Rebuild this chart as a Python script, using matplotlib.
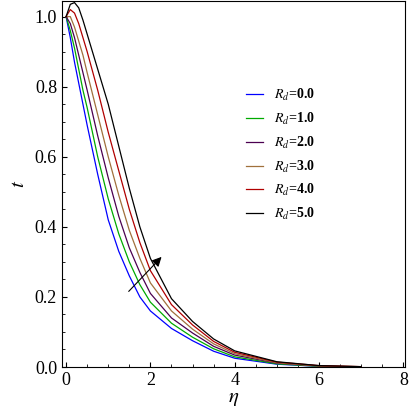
import matplotlib
matplotlib.use("Agg")
import matplotlib.pyplot as plt

plt.rcParams['font.family'] = ['Liberation Serif', 'DejaVu Serif']
plt.rcParams['mathtext.fontset'] = 'stix'

eta = [0, 0.1, 0.2, 0.3, 0.4, 0.5, 0.75, 1, 1.25, 1.5, 1.75, 2, 2.5, 3, 3.5, 4, 5, 6, 7]
rd0 = [1.0, 0.94, 0.87, 0.81, 0.75, 0.69, 0.55, 0.42, 0.33, 0.26, 0.20, 0.16, 0.11, 0.075, 0.045, 0.025, 0.008, 0.002, 0.0]
rd1 = [1.0, 0.96, 0.91, 0.85, 0.79, 0.74, 0.60, 0.48, 0.38, 0.30, 0.235, 0.185, 0.125, 0.085, 0.052, 0.029, 0.009, 0.002, 0.0]
rd2 = [1.0, 0.98, 0.94, 0.89, 0.84, 0.79, 0.66, 0.54, 0.43, 0.34, 0.27, 0.21, 0.14, 0.097, 0.059, 0.034, 0.011, 0.003, 0.0]
rd3 = [1.0, 1.0, 0.97, 0.93, 0.89, 0.84, 0.72, 0.60, 0.49, 0.39, 0.31, 0.24, 0.16, 0.108, 0.066, 0.038, 0.012, 0.003, 0.001]
rd4 = [1.0, 1.02, 1.01, 0.98, 0.94, 0.90, 0.79, 0.67, 0.56, 0.45, 0.355, 0.275, 0.178, 0.12, 0.073, 0.042, 0.014, 0.004, 0.001]
rd5 = [1.0, 1.035, 1.04, 1.025, 0.99, 0.95, 0.85, 0.75, 0.63, 0.51, 0.40, 0.31, 0.195, 0.13, 0.08, 0.046, 0.015, 0.004, 0.001]
series = [rd0, rd1, rd2, rd3, rd4, rd5]
labels = ["0.0", "1.0", "2.0", "3.0", "4.0", "5.0"]
colors = ["#0000ff", "#00aa00", "#4b0050", "#a0703c", "#b00000", "#000000"]

fig = plt.figure(figsize=(4.18, 4.18), dpi=100)
ax = fig.add_axes([0.148, 0.122, 0.822, 0.876])
for y, lab, c in zip(series, labels, colors):
    ax.plot(eta, y, color=c, lw=0.9, label=r"$\mathbf{\mathit{R}_{\mathit{d}}}$=" + lab)

ax.annotate("", xy=(2.31, 0.32), xytext=(1.44, 0.21),
            arrowprops=dict(arrowstyle="-|>", color="black", lw=0.8, mutation_scale=14))

ax.set_xlim(-0.1, 8.05)
ax.set_ylim(0, 1.045)
ax.set_xticks([0, 2, 4, 6, 8])
ax.set_yticks([0, 0.2, 0.4, 0.6, 0.8, 1.0])
ax.set_xticks([i * 0.5 for i in range(17)], minor=True)
ax.set_yticks([i * 0.05 for i in range(21)], minor=True)
ax.tick_params(direction="in", which="both", labelsize=13)
ax.tick_params(which="minor", length=2)
ax.set_xlabel(r"$\eta$", fontsize=15, labelpad=0)
ax.set_ylabel(r"$t$", fontsize=15)
leg = ax.legend(loc="center left", bbox_to_anchor=(0.5, 0.58), frameon=False,
                handlelength=1.2, fontsize=10, labelspacing=0.55)
for t in leg.get_texts():
    t.set_fontweight("bold")

fig.savefig("out.png", dpi=100)
